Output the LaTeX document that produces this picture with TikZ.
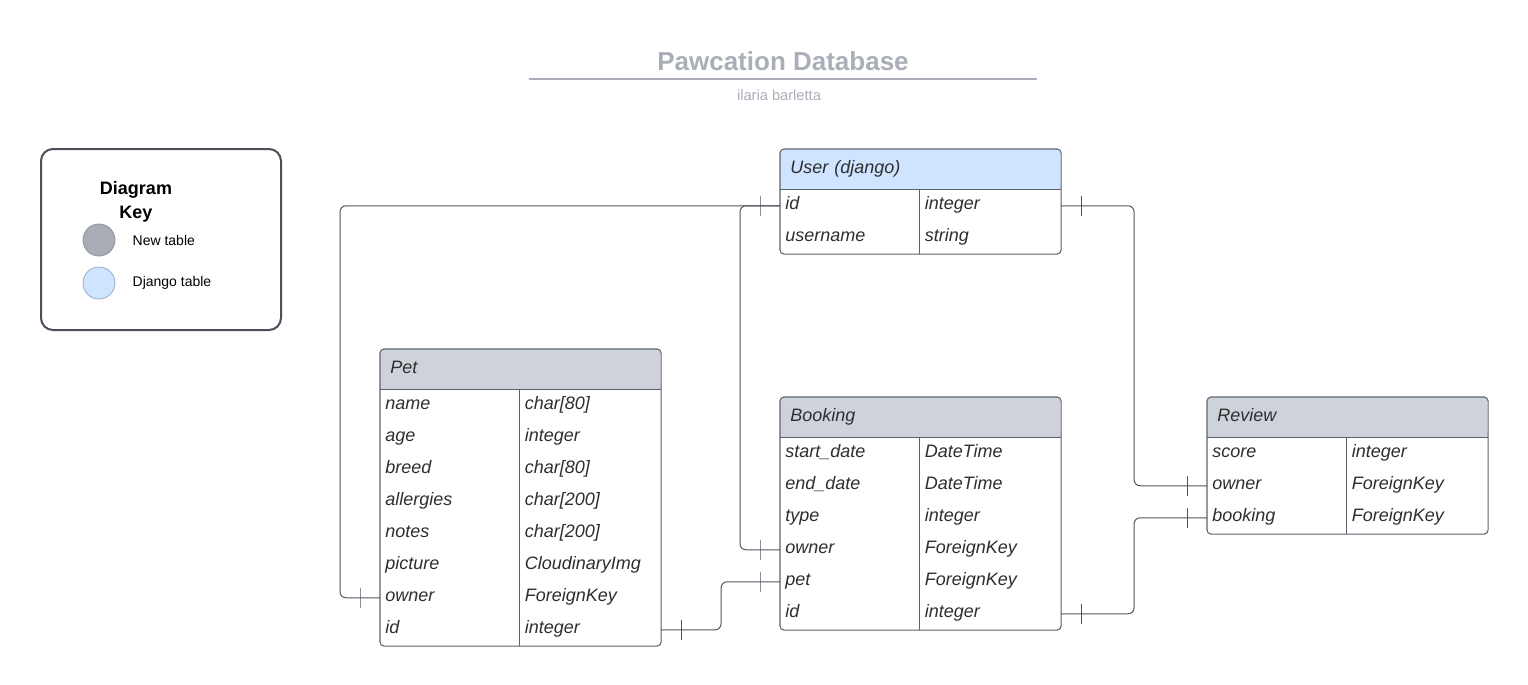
\documentclass[tikz,border=0pt]{standalone}
\usepackage{fontspec}
\setmainfont{Liberation Sans}
\usetikzlibrary{positioning}

\definecolor{titlegray}{HTML}{A9AEB8}
\definecolor{newgray}{HTML}{CED3DB}
\definecolor{keygray}{HTML}{A8ACB4}
\definecolor{djangoblue}{HTML}{CFE4FF}
\definecolor{framegray}{HTML}{5C616C}
\definecolor{linegray}{HTML}{4F545E}
\definecolor{keyframe}{HTML}{4A4F5C}
\definecolor{txt}{HTML}{2E2E2E}

\begin{document}
\begin{tikzpicture}[x=0.75pt, y=-0.75pt,
    every node/.style={text=txt, inner sep=0pt},
    tbl/.style={font=\itshape\fontsize{13.5}{16}\selectfont, anchor=north west, align=left, text height=9.25pt, text depth=3.5pt},
    hdr/.style={tbl, minimum height=30pt, text width=195pt, inner xsep=7.5pt, rounded corners=3pt},
    fld/.style={tbl, minimum height=24pt, text width=96.75pt, inner xsep=3.75pt},
    typ/.style={tbl, minimum height=24pt, text width=98.25pt, inner xsep=3.75pt},
    frame/.style={draw=framegray, line width=0.8pt, rounded corners=3pt},
    conn/.style={draw=linegray, line width=0.75pt, rounded corners=4.5pt},
    tick/.style={draw=linegray, line width=0.75pt, sharp corners, minimum width=0pt, minimum height=15pt},
    keybox/.style={draw=keyframe, line width=1.5pt, rounded corners=9pt, anchor=north west, minimum width=180pt, minimum height=135.75pt},
    swatch/.style={circle, minimum size=24pt, line width=0.6pt},
    keylabel/.style={font=\fontsize{10.5}{12}\selectfont, text=black},
  ]
  \fill[white] (0,0) rectangle (1528,685);
  \useasboundingbox (0,0) rectangle (1528,685);

  % Title
  \node[font=\bfseries\fontsize{19.5}{22}\selectfont, text=titlegray] (title) at (783,61) {Pawcation Database};
  \draw[titlegray, line width=1.5pt] (529,79) -- (1037,79);
  \node[font=\fontsize{11}{13}\selectfont, text=titlegray] (author) at (779,95) {ilaria barletta};

  % Diagram key
  \node[keybox] (key) at (40,148) {};
  \node[font=\bfseries\fontsize{13.5}{18}\selectfont, align=center, text=black] (key-title) at (136,202) {Diagram\\Key};
  \node[swatch, fill=keygray, draw=keygray!85!black] (key-new) at (99,240) {};
  \node[swatch, fill=djangoblue, draw=djangoblue!75!black] (key-django) at (99,283) {};
  \node[keylabel, right=12.75pt of key-new] (key-new-l) {New table};
  \node[keylabel, right=12.75pt of key-django] (key-django-l) {Django table};

  % User table
  \node[hdr, fill=djangoblue] (user) at (780,149) {User (django)};
  \fill[djangoblue] (user.south west) rectangle ([yshift=4pt]user.south east);
  \foreach \f/\t [count=\i] in {id/integer, username/string} {
    \node[fld] (user-\f) at ([yshift={-24pt*(\i-1)}]user.south west) {\f};
    \node[typ] (user-\f-t) at (user-\f.north east) {\t};
  }
  \draw[frame] (user.north west) rectangle (user-username-t.south east);
  \draw[frame] (user.south west) -- (user.south east);
  \draw[frame] (user-id.north east) -- (user-username.south east);

  % Pet table
  \node[hdr, fill=newgray] (pet) at (380,349) {Pet};
  \fill[newgray] (pet.south west) rectangle ([yshift=4pt]pet.south east);
  \foreach \f/\t [count=\i] in {name/char[80], age/integer, breed/char[80], allergies/char[200], notes/char[200], picture/CloudinaryImg, owner/ForeignKey, id/integer} {
    \node[fld] (pet-\f) at ([yshift={-24pt*(\i-1)}]pet.south west) {\f};
    \node[typ] (pet-\f-t) at (pet-\f.north east) {\t};
  }
  \draw[frame] (pet.north west) rectangle (pet-id-t.south east);
  \draw[frame] (pet.south west) -- (pet.south east);
  \draw[frame] (pet-name.north east) -- (pet-id.south east);

  % Booking table
  \node[hdr, fill=newgray] (booking) at (780,397) {Booking};
  \fill[newgray] (booking.south west) rectangle ([yshift=4pt]booking.south east);
  \foreach \k/\f/\t [count=\i] in {sd/start\_date/DateTime, ed/end\_date/DateTime, type/type/integer, owner/owner/ForeignKey, pet/pet/ForeignKey, id/id/integer} {
    \node[fld] (booking-\k) at ([yshift={-24pt*(\i-1)}]booking.south west) {\f};
    \node[typ] (booking-\k-t) at (booking-\k.north east) {\t};
  }
  \draw[frame] (booking.north west) rectangle (booking-id-t.south east);
  \draw[frame] (booking.south west) -- (booking.south east);
  \draw[frame] (booking-sd.north east) -- (booking-id.south east);

  % Review table
  \node[hdr, fill=newgray] (review) at (1207,397) {Review};
  \fill[newgray] (review.south west) rectangle ([yshift=4pt]review.south east);
  \foreach \f/\t [count=\i] in {score/integer, owner/ForeignKey, booking/ForeignKey} {
    \node[fld] (review-\f) at ([yshift={-24pt*(\i-1)}]review.south west) {\f};
    \node[typ] (review-\f-t) at (review-\f.north east) {\t};
  }
  \draw[frame] (review.north west) rectangle (review-booking-t.south east);
  \draw[frame] (review.south west) -- (review.south east);
  \draw[frame] (review-score.north east) -- (review-booking.south east);

  % Relations
  \draw[conn] (user-id.west) -- ++(-20,0) node[tick] {} -- ++(-420,0) |- ([xshift=-15pt]pet-owner.west) node[tick] {} -- (pet-owner.west);
  \draw[conn] (user-id.west) -- ++(-40,0) |- ([xshift=-15pt]booking-owner.west) node[tick] {} -- (booking-owner.west);
  \draw[conn] (user-id-t.east) -- ++(20,0) node[tick] {} -- ++(53,0) |- ([xshift=-15pt]review-owner.west) node[tick] {} -- (review-owner.west);
  \draw[conn] (booking-id-t.east) -- ++(20,0) node[tick] {} -- ++(53,0) |- ([xshift=-15pt]review-booking.west) node[tick] {} -- (review-booking.west);
  \draw[conn] (pet-id-t.east) -- ++(20,0) node[tick] {} -- ++(40,0) |- ([xshift=-15pt]booking-pet.west) node[tick] {} -- (booking-pet.west);
\end{tikzpicture}
\end{document}
